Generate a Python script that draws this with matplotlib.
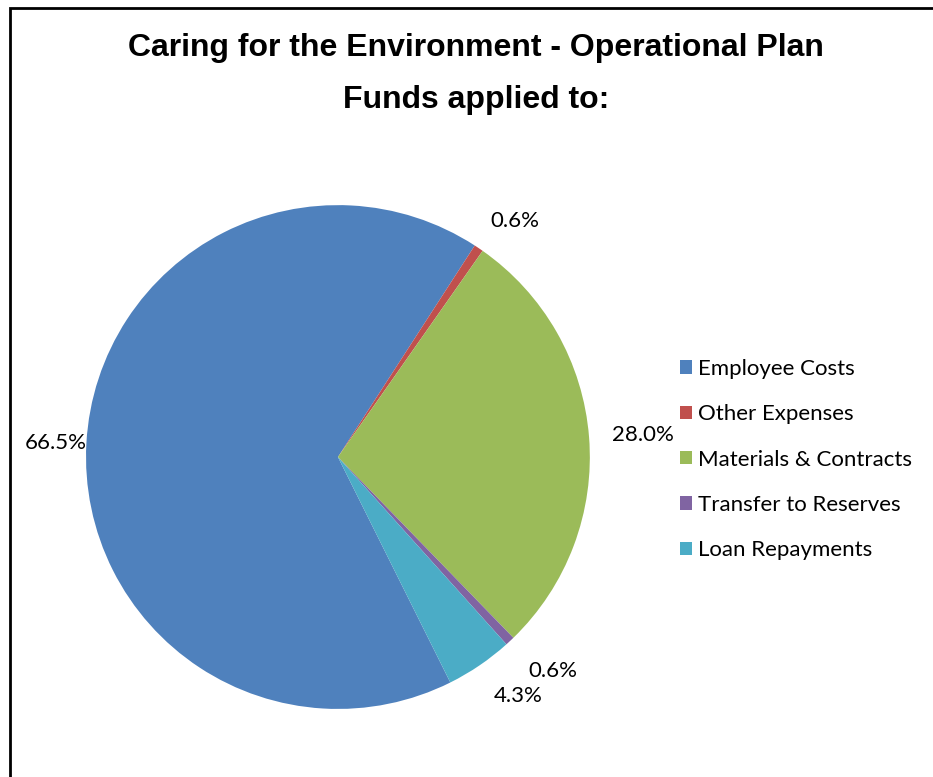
import matplotlib
matplotlib.use('Agg')
import matplotlib.pyplot as plt
import numpy as np

# data
categories = ['Employee Costs', 'Other Expenses', 'Materials & Contracts',
              'Transfer to Reserves', 'Loan Repayments']
shares = [66.5, 0.6, 28.0, 0.6, 4.3]
colors = ['#4F81BD', '#C0504D', '#9BBB59', '#8064A2', '#4BACC6']
label_dist = [1.0, 1.08, 1.09, 1.11, 1.10]

fig = plt.figure(figsize=(9.33, 7.77), dpi=100)

# chart frame (runs off the right and bottom edges like the source)
fig.add_artist(plt.Rectangle((10 / 933, -0.01), 1.0, 1 - 8 / 777 + 0.01,
                             transform=fig.transFigure, fill=False,
                             edgecolor='black', linewidth=2))

fig.text(476 / 933, 1 - 48 / 777, 'Caring for the Environment - Operational Plan',
         ha='center', va='center', fontsize=23, fontweight='bold',
         family='Liberation Sans')
fig.text(476 / 933, 1 - 100 / 777, 'Funds applied to:',
         ha='center', va='center', fontsize=23, fontweight='bold',
         family='Liberation Sans')

ax = fig.add_axes([0.0922, 0.0875, 0.540, 0.6486])
wedges, texts = ax.pie(shares, colors=colors, startangle=296.5, counterclock=False,
                       labels=['%.1f%%' % s for s in shares], labeldistance=1.1,
                       textprops=dict(fontsize=16, family='Lato'))
ax.set_xlim(-1, 1)
ax.set_ylim(-1, 1)
ax.set_aspect('equal')

# Excel-style label placement: nearest corner of the text next to the slice
for w, t, d in zip(wedges, texts, label_dist):
    ang = np.deg2rad((w.theta1 + w.theta2) / 2)
    c, s = np.cos(ang), np.sin(ang)
    t.set_position((d * c, d * s))
    t.set_ha('left' if c >= 0 else 'right')
    t.set_va('bottom' if s > 0.3 else ('top' if s < -0.3 else 'center'))
    t.set_clip_on(False)

leg = fig.legend(wedges, categories, loc='upper left',
                 bbox_to_anchor=(660 / 933, 1 - 339 / 777), frameon=False,
                 prop=dict(family='Lato', size=16), handlelength=0.55,
                 handleheight=0.55, handletextpad=0.27, labelspacing=1.14)

fig.savefig('out.png', dpi=100)
